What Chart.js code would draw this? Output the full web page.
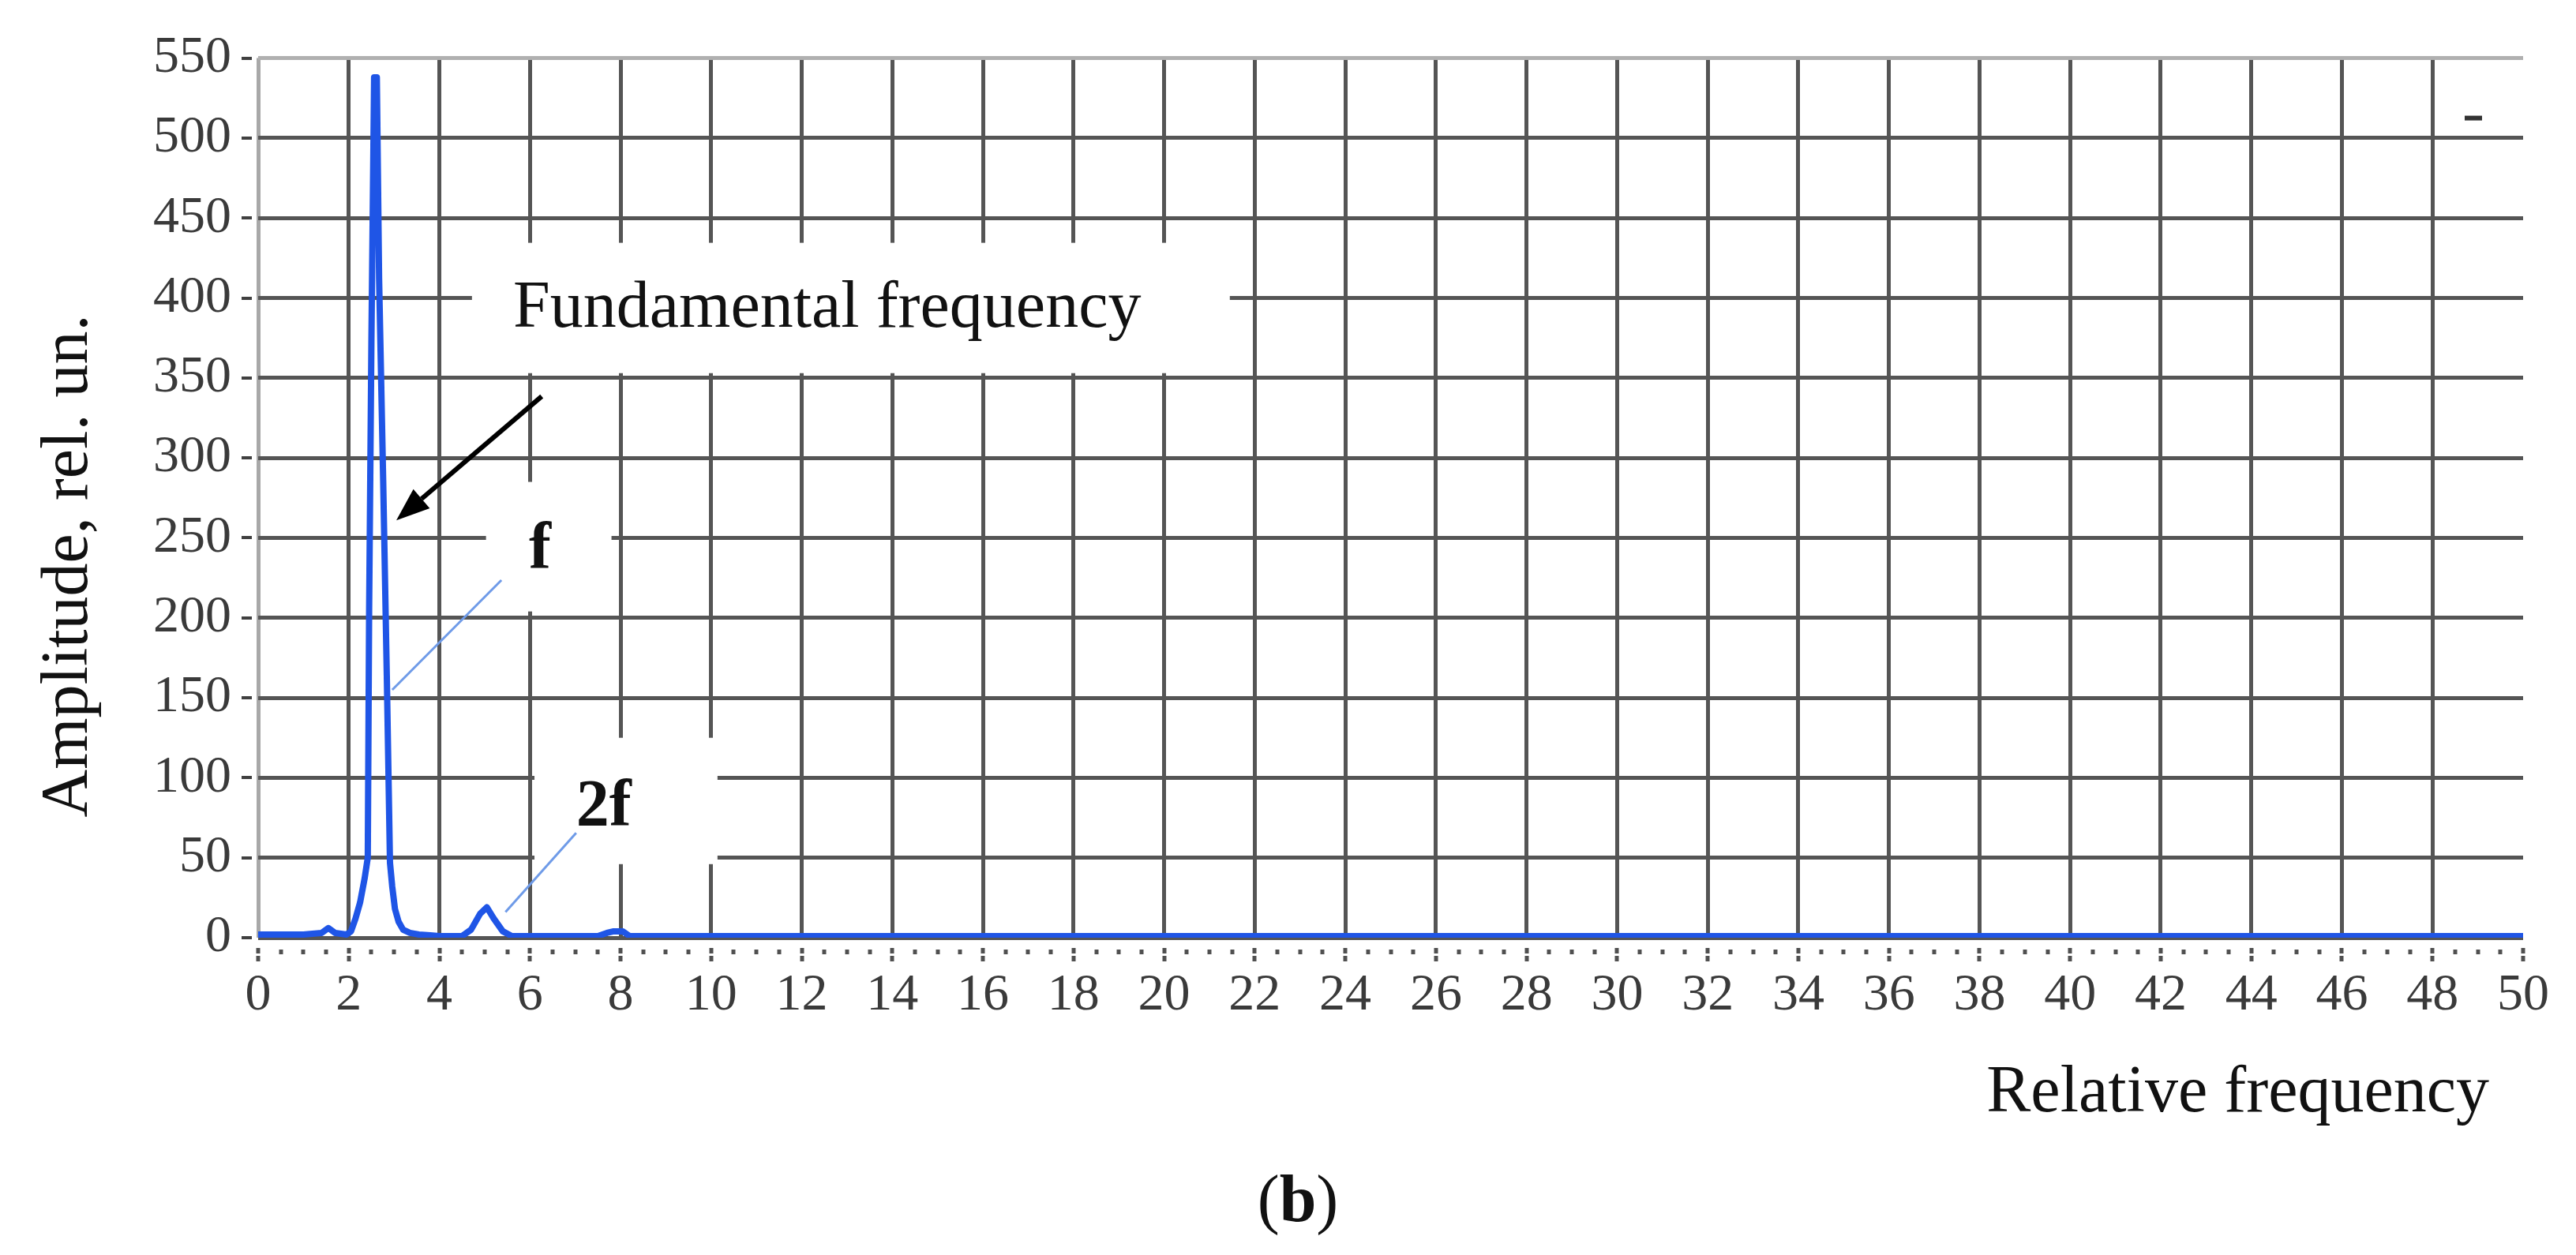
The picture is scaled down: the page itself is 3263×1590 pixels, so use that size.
<!DOCTYPE html>
<html>
<head>
<meta charset="utf-8">
<script src="https://cdn.jsdelivr.net/npm/chart.js@4.4.1/dist/chart.umd.min.js"></script>
<style>
  html, body { margin: 0; padding: 0; background: #fff; }
  #wrap { width: 3263px; height: 1590px; position: relative; }
</style>
</head>
<body>
<div id="wrap"><canvas id="spectrum"></canvas></div>
<script>
// spectrum (relative frequency vs amplitude)
const freq = [0, 0.5, 1.0, 1.4, 1.55, 1.7, 1.95, 2.05, 2.15, 2.25, 2.35, 2.42,
  2.45, 2.50, 2.56, 2.62, 2.67, 2.76, 2.84, 2.91, 2.96, 3.02, 3.1, 3.2, 3.35, 3.55, 3.8,
  4.0, 4.5, 4.7, 4.9, 5.05, 5.2, 5.4, 5.6, 7.5, 7.7, 7.85, 8.05, 8.2, 10, 20, 30, 40, 50];
const amp = [2, 2, 2, 3, 6, 3, 2, 4, 12, 22, 37, 50,
  205, 372, 538, 538, 412, 286, 164, 47, 32, 18, 10, 5, 3, 2, 1.5,
  1, 1, 5, 15, 19, 12, 4, 1, 1, 3, 4, 4, 1, 1, 1, 1, 1, 1];

const xMin = 0, xMax = 50, xStep = 2, xMinorStep = 0.5;
const yMin = 0, yMax = 550, yStep = 50;

// annotation boxes / labels, in data units
const labelBoxes = [
  { x0: 4.72, x1: 21.45, y0: 353, y1: 434.5 },
  { x0: 5.03, x1: 7.80, y0: 204, y1: 285 },
  { x0: 6.1, x1: 10.14, y0: 46, y1: 125 }
];
const notes = [
  { text: 'Fundamental frequency', x: 5.63, y: 382, bold: false, align: 'left' },
  { text: 'f', x: 6.22, y: 231, bold: true, align: 'center' },
  { text: '2f', x: 7.02, y: 70, bold: true, align: 'left' }
];
const arrow = { from: [6.26, 338.5], to: [3.05, 261] };
const leaders = [
  { from: [5.37, 223.6], to: [2.96, 155] },
  { from: [7.02, 65.5], to: [5.46, 16] }
];

const SERIF = '"Liberation Serif", "Times New Roman", serif';

const overlay = {
  id: 'overlay',
  beforeDatasetsDraw(chart) {
    const { ctx, scales: { x, y } } = chart;
    ctx.save();
    ctx.fillStyle = '#fff';
    labelBoxes.forEach(b => {
      const l = x.getPixelForValue(b.x0), r = x.getPixelForValue(b.x1);
      const t = y.getPixelForValue(b.y1), bt = y.getPixelForValue(b.y0);
      ctx.fillRect(l, t, r - l, bt - t);
    });

    ctx.fillStyle = '#111';
    ctx.textBaseline = 'alphabetic';
    notes.forEach(n => {
      ctx.font = (n.bold ? 'bold ' : '') + '84px ' + SERIF;
      ctx.textAlign = n.align;
      ctx.fillText(n.text, x.getPixelForValue(n.x), y.getPixelForValue(n.y));
    });

    // leader lines
    ctx.strokeStyle = '#6f9be8';
    ctx.lineWidth = 3;
    leaders.forEach(l => {
      ctx.beginPath();
      ctx.moveTo(x.getPixelForValue(l.from[0]), y.getPixelForValue(l.from[1]));
      ctx.lineTo(x.getPixelForValue(l.to[0]), y.getPixelForValue(l.to[1]));
      ctx.stroke();
    });

    // arrow
    const ax0 = x.getPixelForValue(arrow.from[0]), ay0 = y.getPixelForValue(arrow.from[1]);
    const ax1 = x.getPixelForValue(arrow.to[0]), ay1 = y.getPixelForValue(arrow.to[1]);
    const ang = Math.atan2(ay1 - ay0, ax1 - ax0);
    const headLen = 42, headW = 16;
    const bx = ax1 - headLen * Math.cos(ang), by = ay1 - headLen * Math.sin(ang);
    ctx.strokeStyle = '#000';
    ctx.lineWidth = 6;
    ctx.beginPath();
    ctx.moveTo(ax0, ay0);
    ctx.lineTo(bx, by);
    ctx.stroke();
    ctx.fillStyle = '#000';
    ctx.beginPath();
    ctx.moveTo(ax1, ay1);
    ctx.lineTo(bx + headW * Math.sin(ang), by - headW * Math.cos(ang));
    ctx.lineTo(bx - headW * Math.sin(ang), by + headW * Math.cos(ang));
    ctx.closePath();
    ctx.fill();
    ctx.restore();
  },
  afterDraw(chart) {
    const { ctx, chartArea: area, scales: { x, y } } = chart;
    ctx.save();
    ctx.fillStyle = '#505050';
    // x tick marks: dots every 0.5, double dash on labelled values
    for (let v = xMin; v <= xMax + 1e-9; v += xMinorStep) {
      const px = Math.round(x.getPixelForValue(v));
      if (Math.abs(v % xStep) < 1e-9) {
        ctx.fillRect(px - 2.5, area.bottom + 13, 5, 7);
        ctx.fillRect(px - 2.5, area.bottom + 23, 5, 7);
      } else {
        ctx.fillRect(px - 2.5, area.bottom + 15, 5, 6);
      }
    }
    // y tick dashes
    ctx.fillStyle = '#404040';
    for (let v = yMin; v <= yMax; v += yStep) {
      const py = Math.round(y.getPixelForValue(v));
      ctx.fillRect(area.left - 21, py - 2, 13, 4);
    }

    ctx.fillStyle = '#111';
    ctx.textBaseline = 'alphabetic';
    ctx.font = '84px ' + SERIF;
    ctx.textAlign = 'right';
    ctx.fillText('Relative frequency', area.right - 43, area.bottom + 220);

    ctx.save();
    ctx.translate(area.left - 217, area.bottom - 471);
    ctx.rotate(-Math.PI / 2);
    ctx.textAlign = 'center';
    ctx.fillText('Amplitude, rel. un.', 0, 0);
    ctx.restore();

    // caption "(b)"
    const cx = 1644, cy = 1547;
    ctx.textAlign = 'left';
    ctx.font = '84px ' + SERIF;
    const wP = ctx.measureText('(').width;
    ctx.font = 'bold 84px ' + SERIF;
    const wB = ctx.measureText('b').width;
    const start = cx - (2 * wP + wB) / 2;
    ctx.font = '84px ' + SERIF;
    ctx.fillText('(', start, cy);
    ctx.font = 'bold 84px ' + SERIF;
    ctx.fillText('b', start + wP, cy);
    ctx.font = '84px ' + SERIF;
    ctx.fillText(')', start + wP + wB, cy);

    // stray legend dash in the corner
    ctx.fillStyle = '#333';
    ctx.fillRect(area.right - 74, area.top + 73, 22, 6);
    ctx.restore();
  }
};

const points = freq.map((f, i) => ({ x: f, y: amp[i] }));

new Chart(document.getElementById('spectrum').getContext('2d'), {
  type: 'line',
  data: {
    datasets: [{
      data: points,
      borderColor: '#1f55e6',
      borderWidth: 8,
      pointRadius: 0,
      tension: 0,
      borderJoinStyle: 'round',
      borderCapStyle: 'round',
      fill: false
    }]
  },
  options: {
    responsive: true,
    maintainAspectRatio: false,
    devicePixelRatio: 1,
    animation: false,
    layout: { padding: { left: 0, top: 54, right: 52, bottom: 0 } },
    plugins: { legend: { display: false }, tooltip: { enabled: false } },
    scales: {
      x: {
        type: 'linear',
        min: xMin,
        max: xMax,
        afterFit: s => { s.height = 402; },
        border: { display: false },
        grid: {
          lineWidth: 5,
          drawTicks: false,
          color: c => c.tick.value === xMin ? '#a8a8a8' : (c.tick.value === xMax ? 'rgba(0,0,0,0)' : '#555555')
        },
        ticks: {
          stepSize: xStep,
          autoSkip: false,
          maxRotation: 0,
          padding: 34,
          color: '#3a3a3a',
          font: { family: SERIF, size: 66 }
        }
      },
      y: {
        min: yMin,
        max: yMax,
        afterFit: s => { s.width = 327; },
        border: { display: false },
        grid: {
          lineWidth: 5,
          drawTicks: false,
          color: c => c.tick.value === yMax ? '#b0b0b0' : '#555555'
        },
        ticks: {
          stepSize: yStep,
          padding: 34,
          color: '#3a3a3a',
          font: { family: SERIF, size: 66 }
        }
      }
    }
  },
  plugins: [overlay]
});
</script>
</body>
</html>
